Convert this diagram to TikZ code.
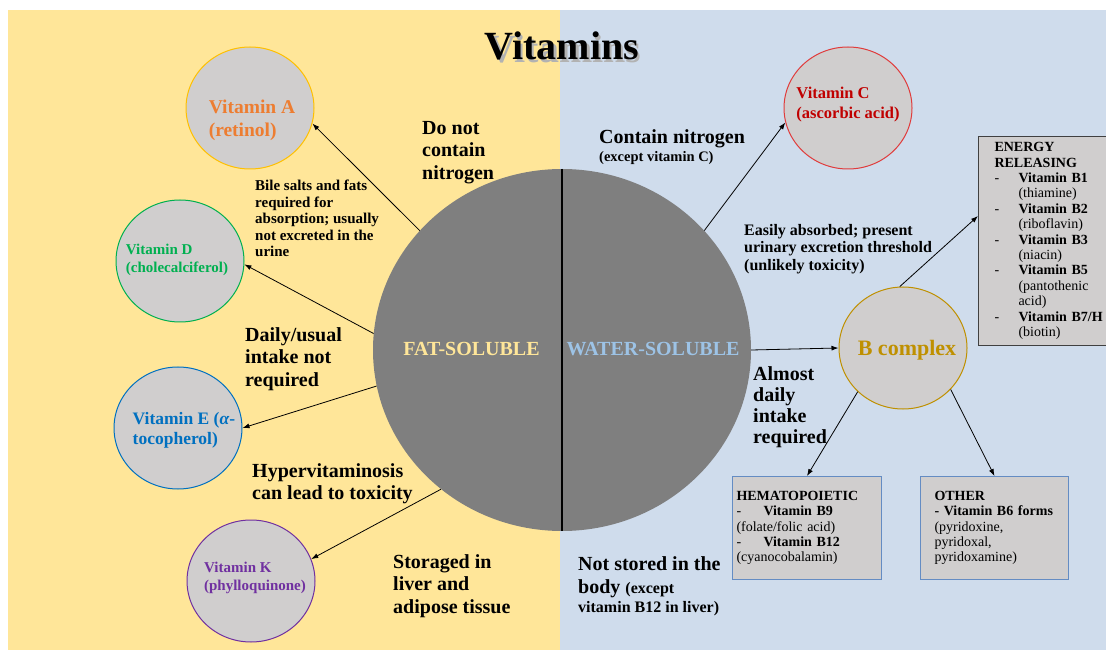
\documentclass[tikz,border=0pt]{standalone}
\usepackage{fontspec}
\setmainfont{Liberation Serif}
\usetikzlibrary{shapes.geometric,arrows.meta}

\definecolor{fatbg}{RGB}{255,230,153}
\definecolor{waterbg}{RGB}{207,220,236}
\definecolor{bigdisc}{RGB}{127,127,127}
\definecolor{circgray}{RGB}{208,206,206}
\definecolor{vitAtext}{RGB}{237,125,49}
\definecolor{vitAring}{RGB}{255,192,0}
\definecolor{vitDgreen}{RGB}{0,176,80}
\definecolor{vitEblue}{RGB}{0,112,192}
\definecolor{vitKpurple}{RGB}{112,48,160}
\definecolor{vitCred}{RGB}{192,0,0}
\definecolor{vitCring}{RGB}{224,60,60}
\definecolor{bgold}{RGB}{191,144,0}
\definecolor{fattext}{RGB}{255,230,153}
\definecolor{watertext}{RGB}{157,195,230}
\definecolor{boxblue}{RGB}{100,140,195}
\definecolor{boxgray}{RGB}{64,64,64}

\tikzset{
    vit/.style={ellipse, draw, fill=circgray, line width=1pt,
    	minimum width=128pt, minimum height=122pt, inner sep=0pt}
}
\tikzset{
    vitlabel/.style={align=left, inner sep=0pt}
}
\tikzset{
    note/.style={align=left, anchor=north west, inner sep=0pt,
    	font=\bfseries\fontsize{20}{22.5}\selectfont}
}
\tikzset{
    groupbox/.style={rectangle, fill=circgray, line width=1pt, anchor=north west,
    	align=left, inner ysep=0pt, font=\fontsize{14}{15.4}\selectfont}
}
\tikzset{
    arr/.style={-{Latex[length=7pt,width=5pt]}, line width=0.8pt}
}

\newcommand{\bitem}[2][24pt]{\makebox[#1][l]{-}\textbf{#2}}
\newcommand{\bcont}[1]{\hspace*{24pt}#1}
\newcommand{\shadowed}[1]{\makebox[0pt][l]{\hspace*{2.5pt}\raisebox{-2.5pt}{\color{black!30}#1}}#1}

\begin{document}
\begin{tikzpicture}[x=1pt, y=-1pt]
  \useasboundingbox (0,0) rectangle (1106,652);
  \fill [fatbg] (8,10) rectangle (560,650);
  \fill [waterbg] (560,10) rectangle (1106,650);

  \node (title) [anchor=base, font=\bfseries\fontsize{40}{44}\selectfont]
  	at (562,60) {\shadowed{Vitamins}};

  % central disc
  \node (big) [ellipse, fill=bigdisc, minimum width=378pt, minimum height=362pt]
  	at (562,350) {};
  \draw [line width=2pt] (big.north) -- (big.south);
  \node (fat) [text=fattext, font=\bfseries\fontsize{20}{24}\selectfont]
  	at (471.5,349) {FAT-SOLUBLE};
  \node (water) [text=watertext, font=\bfseries\fontsize{20}{24}\selectfont]
  	at (653,349) {WATER-SOLUBLE};

  % fat-soluble vitamins
  \node (vitA) [vit, draw=vitAring] at (250,108) {};
  \node (vitD) [vit, draw=vitDgreen] at (180,261) {};
  \node (vitE) [vit, draw=vitEblue] at (178,428) {};
  \node (vitK) [vit, draw=vitKpurple] at (251,581) {};
  \node (vitAlab) [vitlabel, text=vitAtext,
  	font=\bfseries\fontsize{19.5}{23}\selectfont] at (252,120) {Vitamin A\\(retinol)};
  \node (vitDlab) [vitlabel, text=vitDgreen,
  	font=\bfseries\fontsize{15}{18}\selectfont] at (177,260) {Vitamin D\\(cholecalciferol)};
  \node (vitElab) [vitlabel, text=vitEblue,
  	font=\bfseries\fontsize{17.5}{20}\selectfont] at (184,430) {Vitamin E (\textit{α}-\\tocopherol)};
  \node (vitKlab) [vitlabel, text=vitKpurple,
  	font=\bfseries\fontsize{15}{18}\selectfont] at (255,578) {Vitamin K\\(phylloquinone)};

  % water-soluble vitamins
  \node (vitC) [vit, draw=vitCring] at (848,108) {};
  \node (vitB) [vit, draw=bgold] at (903,348) {};
  \node (vitClab) [vitlabel, text=vitCred,
  	font=\bfseries\fontsize{16.5}{20}\selectfont] at (848,105) {Vitamin C\\(ascorbic acid)};
  \node (vitBlab) [vitlabel, text=bgold,
  	font=\bfseries\fontsize{22}{26}\selectfont] at (907,350) {B complex};

  \node (energy) [groupbox, draw=boxgray, text width=110pt, inner xsep=16pt,
  	minimum height=209pt] at (978,136)
  	{\textbf{ENERGY}\\\textbf{RELEASING}\\
  	\bitem{Vitamin B1}\\\bcont{(thiamine)}\\
  	\bitem{Vitamin B2}\\\bcont{(riboflavin)}\\
  	\bitem{Vitamin B3}\\\bcont{(niacin)}\\
  	\bitem{Vitamin B5}\\\bcont{(pantothenic}\\\bcont{acid)}\\
  	\bitem{Vitamin B7/H}\\\bcont{(biotin)}};
  \node (hemat) [groupbox, draw=boxblue, text width=141pt, inner xsep=4pt,
  	minimum height=103pt] at (732,476)
  	{\textbf{HEMATOPOIETIC}\\\bitem[27pt]{Vitamin B9}\\(folate/folic acid)\\
  	\bitem[27pt]{Vitamin B12}\\(cyanocobalamin)};
  \node (other) [groupbox, draw=boxblue, text width=120pt, inner xsep=14pt,
  	minimum height=103pt] at (920,476)
  	{\textbf{OTHER}\\\textbf{- Vitamin B6 forms}\\(pyridoxine,\\pyridoxal,\\pyridoxamine)};

  % properties
  \node (nonitro) [note] at (422,121) {Do not\\contain\\nitrogen};
  \node (bile) [note, font=\bfseries\fontsize{15}{16.5}\selectfont] at (255,180)
  	{Bile salts and fats\\required for\\absorption; usually\\not excreted in the\\urine};
  \node (daily) [note] at (245,327) {Daily/usual\\intake not\\required};
  \node (hyper) [note] at (252,463) {Hypervitaminosis\\can lead to toxicity};
  \node (storage) [note] at (393,554) {Storaged in\\liver and\\adipose tissue};
  \node (nitro) [note] at (599,129)
  	{Contain nitrogen\\[-4.5pt]{\fontsize{14.5}{18}\selectfont (except vitamin C)}};
  \node (easy) [note, font=\bfseries\fontsize{16}{17.5}\selectfont] at (744,224)
  	{Easily absorbed; present\\urinary excretion threshold\\(unlikely toxicity)};
  \node (almost) [note, font=\bfseries\fontsize{20}{21}\selectfont] at (753,366)
  	{Almost\\daily\\intake\\required};
  \node (nostore) [note, font=\bfseries\fontsize{20}{23}\selectfont] at (578,556)
  	{Not stored in the\\body {\fontsize{16}{19}\selectfont (except}\\[-4pt]
  	{\fontsize{16}{19}\selectfont vitamin B12 in liver)}};

  \draw [arr] (big.140) -- (vitA.-14);
  \draw [arr] (big.175) -- (vitD.-3);
  \draw [arr] (big.191) -- (vitE.east);
  \draw [arr] (big.229) -- (vitK.20);
  \draw [arr] (big.40) -- (vitC.193);
  \draw [arr] (big.east) -- (vitB.west);
  \draw [arr] (vitB.93) -- ([yshift=25pt]energy.west);
  \draw [arr] (vitB.224) -- (hemat.north);
  \draw [arr] (vitB.-41) -- (other.north);
\end{tikzpicture}
\end{document}
